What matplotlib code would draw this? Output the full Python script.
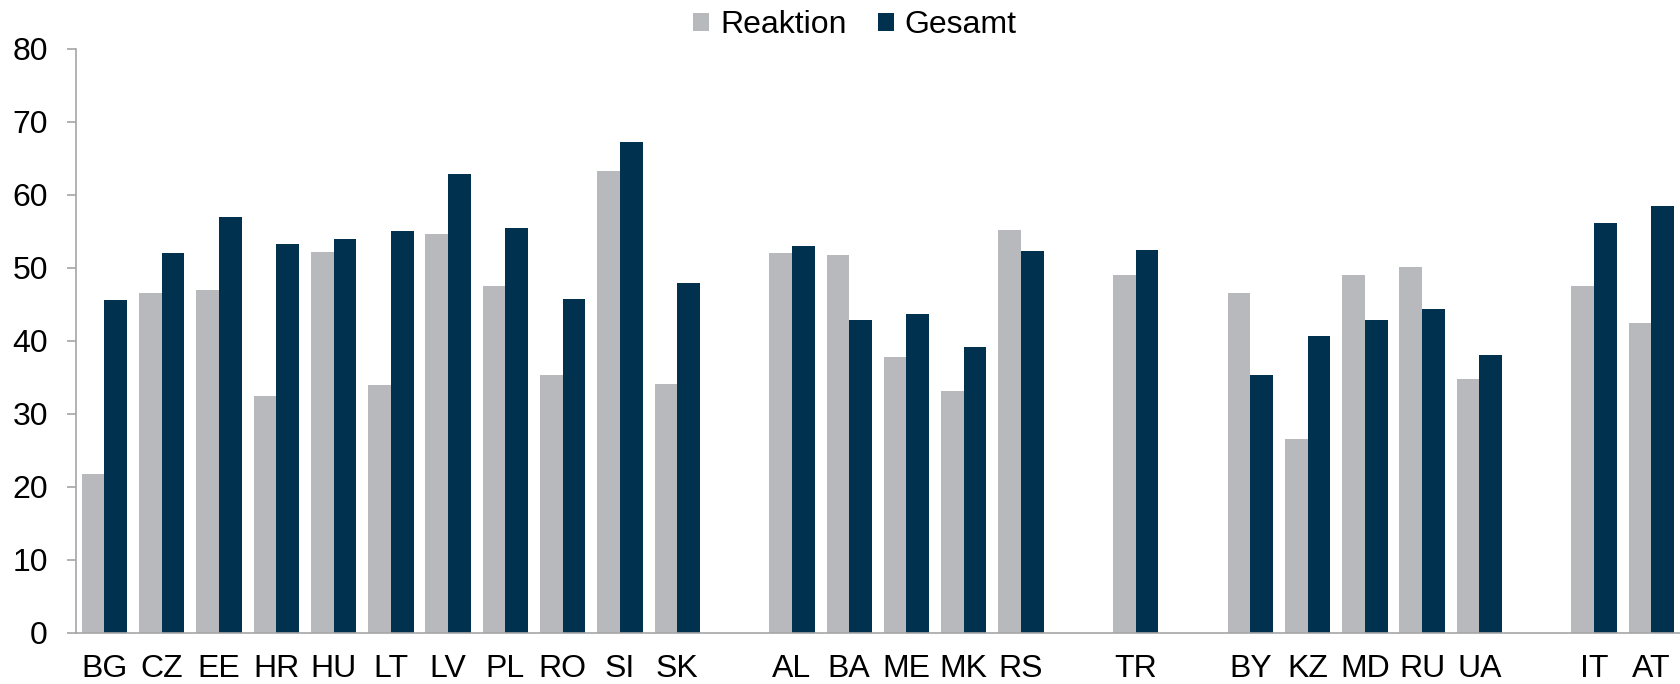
import numpy as np
import matplotlib
matplotlib.use("Agg")
import matplotlib.pyplot as plt

plt.rcParams['font.family'] = ['Liberation Sans', 'DejaVu Sans']

# Countries by region; empty strings separate the groups
categories = ['BG', 'CZ', 'EE', 'HR', 'HU', 'LT', 'LV', 'PL', 'RO', 'SI', 'SK', '',
              'AL', 'BA', 'ME', 'MK', 'RS', '',
              'TR', '',
              'BY', 'KZ', 'MD', 'RU', 'UA', '',
              'IT', 'AT']

reaktion = [21.7, 46.6, 47.0, 32.4, 52.2, 33.9, 54.7, 47.5, 35.3, 63.3, 34.1, None,
            52.0, 51.8, 37.8, 33.1, 55.2, None,
            49.0, None,
            46.6, 26.6, 49.0, 50.1, 34.8, None,
            47.5, 42.4]

gesamt = [45.6, 52.0, 57.0, 53.3, 54.0, 55.0, 62.9, 55.4, 45.8, 67.2, 47.9, None,
          53.0, 42.8, 43.7, 39.1, 52.3, None,
          52.4, None,
          35.3, 40.7, 42.9, 44.3, 38.0, None,
          56.2, 58.5]

series_names = ['Reaktion', 'Gesamt']
colors = ['#B8B9BD', '#00324F']

r_vals = np.array([np.nan if v is None else v for v in reaktion], dtype=float)
g_vals = np.array([np.nan if v is None else v for v in gesamt], dtype=float)
x = np.arange(len(categories))

fig = plt.figure(figsize=(16.8, 6.84), dpi=100)
ax = fig.add_axes([75.7 / 1680, 1 - 632.7 / 684, 1 - 75.7 / 1680, (632.7 - 49) / 684])

w = 0.396
ax.bar(x - w / 2, r_vals, width=w, color=colors[0], label=series_names[0], linewidth=0)
ax.bar(x + w / 2, g_vals, width=w, color=colors[1], label=series_names[1], linewidth=0)

ax.set_xlim(-0.5, len(categories) - 0.5)
ax.set_ylim(0, 80)
ax.set_yticks(np.arange(0, 81, 10))
ax.set_xticks(x)
ax.set_xticklabels(categories)

for side in ('top', 'right'):
    ax.spines[side].set_visible(False)
for side in ('left', 'bottom'):
    ax.spines[side].set_color('#A6A6A6')
    ax.spines[side].set_linewidth(1.2)

ax.tick_params(axis='y', length=6.5, width=1.2, color='#A6A6A6', pad=13.5,
               labelsize=23, labelcolor='black')
ax.tick_params(axis='x', length=0, pad=15.3, labelsize=23, labelcolor='black')

fig.legend(loc='center', bbox_to_anchor=(0.509, 1 - 25 / 684), ncol=2,
           frameon=False, fontsize=23, handlelength=0.48, handleheight=0.48,
           handletextpad=0.35, columnspacing=1.0, borderpad=0, borderaxespad=0)

fig.savefig('out.png', dpi=100)
